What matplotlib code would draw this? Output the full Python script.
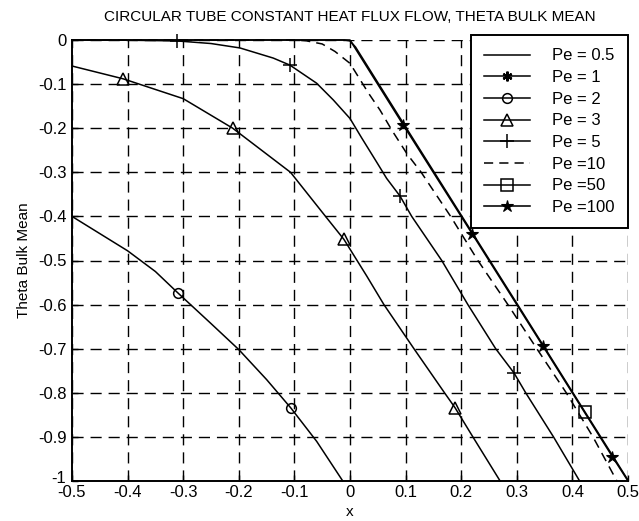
import matplotlib
matplotlib.use("Agg")
import matplotlib.pyplot as plt
import matplotlib.transforms as mtransforms

plt.rcParams['font.family'] = ['Liberation Sans', 'DejaVu Sans']

# ---- data ----
pe_labels = ["Pe = 0.5", "Pe = 1", "Pe = 2", "Pe = 3", "Pe = 5", "Pe =10", "Pe =50", "Pe =100"]

# Pe = 0.5 and Pe = 1 lie entirely below the plotted range (not visible)
pe05_x = [-0.5, -0.3, -0.1, 0.1, 0.3, 0.5]
pe05_y = [-1.6, -1.75, -1.9, -2.1, -2.3, -2.5]
pe1_x = [-0.5, -0.3, -0.1, 0.1, 0.3, 0.5]
pe1_y = [-1.05, -1.25, -1.5, -1.8, -2.1, -2.4]

pe2_x = [-0.5, -0.4, -0.35, -0.31, -0.25, -0.2, -0.15, -0.106, -0.06, -0.013]
pe2_y = [-0.4, -0.478, -0.525, -0.573, -0.643, -0.702, -0.77, -0.835, -0.91, -1.0]
pe2_marks = [3, 7]

pe3_x = [-0.5, -0.408, -0.3, -0.211, -0.107, -0.044, -0.011, 0.03, 0.061, 0.115, 0.17, 0.189, 0.221, 0.27]
pe3_y = [-0.059, -0.088, -0.133, -0.2, -0.3, -0.4, -0.452, -0.535, -0.6, -0.7, -0.8, -0.834, -0.9, -1.0]
pe3_marks = [1, 3, 6, 11]

pe5_x = [-0.5, -0.4, -0.312, -0.25, -0.198, -0.138, -0.108, -0.06, -0.03, 0.0, 0.021, 0.048,
         0.066, 0.09, 0.111, 0.165, 0.212, 0.262, 0.295, 0.316, 0.366, 0.413]
pe5_y = [0.0, -0.0005, -0.002, -0.008, -0.018, -0.041, -0.057, -0.098, -0.136, -0.178, -0.222, -0.277,
         -0.314, -0.354, -0.4, -0.5, -0.6, -0.7, -0.755, -0.8, -0.9, -1.0]
pe5_marks = [2, 6, 13, 18]

pe10_x = [-0.5, -0.1, -0.078, -0.05, -0.027, 0.0, 0.033, 0.054, 0.076, 0.103, 0.128, 0.181,
          0.23, 0.284, 0.336, 0.389, 0.437, 0.48]
pe10_y = [0.0, 0.0, -0.002, -0.009, -0.026, -0.053, -0.12, -0.159, -0.206, -0.259, -0.30, -0.40,
          -0.50, -0.60, -0.70, -0.80, -0.90, -1.0]

pe50_x = [-0.5, -0.01, 0.0, 0.01, 0.1, 0.2, 0.3, 0.423, 0.5]
pe50_y = [0.0, 0.0, -0.002, -0.016, -0.197, -0.397, -0.597, -0.844, -0.998]
pe50_marks = [7]

pe100_x = [-0.5, 0.0, 0.096, 0.22, 0.347, 0.472, 0.5]
pe100_y = [0.0, 0.0, -0.193, -0.44, -0.694, -0.945, -1.0]
pe100_marks = [2, 3, 4, 5]

x_ticks = [-0.5, -0.4, -0.3, -0.2, -0.1, 0, 0.1, 0.2, 0.3, 0.4, 0.5]
x_ticklabels = ["-0.5", "-0.4", "-0.3", "-0.2", "-0.1", "0", "0.1", "0.2", "0.3", "0.4", "0.5"]
y_ticks = [-1, -0.9, -0.8, -0.7, -0.6, -0.5, -0.4, -0.3, -0.2, -0.1, 0]
y_ticklabels = ["-1", "-0.9", "-0.8", "-0.7", "-0.6", "-0.5", "-0.4", "-0.3", "-0.2", "-0.1", "0"]

# ---- figure ----
fig = plt.figure(figsize=(6.39, 5.21), dpi=100)
ax = fig.add_axes([72 / 639, 1 - 481 / 521, (628 - 72) / 639, (481 - 40) / 521])

lw = 1.1
k = 'black'
ax.plot(pe05_x, pe05_y, color=k, lw=lw, label=pe_labels[0])
ax.plot(pe1_x, pe1_y, color=k, lw=lw, marker=(6, 2, 0), ms=7, mew=1.6, markevery=[0],
        label=pe_labels[1])
ax.plot(pe2_x, pe2_y, color=k, lw=lw, marker='o', ms=7, mfc='none', mew=1.1,
        markevery=pe2_marks, label=pe_labels[2], clip_on=False)
ax.plot(pe3_x, pe3_y, color=k, lw=lw, marker='^', ms=9, mfc='none', mew=1.1,
        markevery=pe3_marks, label=pe_labels[3], clip_on=False)
ax.plot(pe5_x, pe5_y, color=k, lw=lw, marker='+', ms=10, mew=1.1,
        markevery=pe5_marks, label=pe_labels[4], clip_on=False)
ax.plot(pe10_x, pe10_y, color=k, lw=lw, ls=(0, (6, 4)), label=pe_labels[5], clip_on=False)
ax.plot(pe50_x, pe50_y, color=k, lw=lw, marker='s', ms=8, mfc='none', mew=1.1,
        markevery=pe50_marks, label=pe_labels[6], clip_on=False)
ax.plot(pe100_x, pe100_y, color=k, lw=1.15, marker='*', ms=9, mew=0.8,
        markevery=pe100_marks, label=pe_labels[7], clip_on=False)

ax.set_xlim(-0.5, 0.5)
ax.set_ylim(-1, 0)
ax.set_xticks(x_ticks)
ax.set_xticklabels(x_ticklabels)
ax.set_yticks(y_ticks)
ax.set_yticklabels(y_ticklabels)

ax.grid(True, color='black', lw=1.0, ls=(0, (8, 5)))
ax.set_axisbelow(True)
for s in ['top', 'right']:
    ax.spines[s].set_visible(False)
for s in ['left', 'bottom']:
    ax.spines[s].set_linewidth(1.4)
ax.tick_params(direction='in', length=4, width=1, labelsize=12, colors='black')
ax.tick_params(axis='y', pad=4)
ax.tick_params(axis='x', pad=3)

# nudge the lowest y label up a little, as in the reference
lbl = ax.get_yticklabels()[0]
lbl.set_transform(lbl.get_transform() + mtransforms.ScaledTranslation(0, 4 / 100, fig.dpi_scale_trans))

ax.set_title("CIRCULAR TUBE CONSTANT HEAT FLUX FLOW, THETA BULK MEAN", fontsize=11, pad=14)
ax.set_xlabel("x", fontsize=11)
ax.set_ylabel("Theta Bulk Mean", fontsize=11)
ax.xaxis.set_label_coords(0.5, -0.054)
ax.yaxis.set_label_coords(-0.074, 0.5)

leg = ax.legend(loc='upper left', bbox_to_anchor=(471 / 639, 1 - 35 / 521),
                bbox_transform=fig.transFigure, fontsize=12, frameon=True, fancybox=False,
                edgecolor='black', framealpha=1, handlelength=2.76, handletextpad=1.3,
                labelspacing=0.4, borderpad=0.8, borderaxespad=0)
leg.get_frame().set_linewidth(1.4)
leg.set_zorder(10)

fig.savefig("out.png", dpi=100)
